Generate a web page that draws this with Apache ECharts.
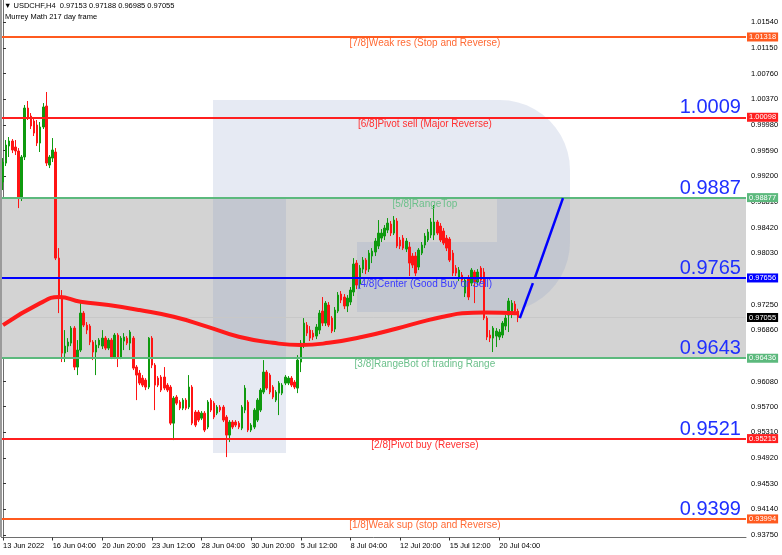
<!DOCTYPE html>
<html><head><meta charset="utf-8">
<script src="https://cdn.jsdelivr.net/npm/echarts@6/dist/echarts.min.js"></script>
<style>html,body{margin:0;padding:0;background:#fff}#c{width:782px;height:555px}</style>
</head><body><div id="c"></div>
<script>
// ---------- DATA ----------
const opens = [0.99114,0.99402,0.99661,0.99737,0.99646,0.99585,0.9887,0.99494,1.00238,1.00117,1.00041,0.9998,0.99706,0.9995,1.00269,0.99372,0.99478,0.9957,0.97958,0.97381,
0.96514,0.96621,0.96666,0.96894,0.96302,0.9656,0.97122,0.9694,0.96925,0.96682,0.9653,0.96636,0.96621,0.96742,0.9659,0.96712,0.96454,0.96788,0.96454,0.96697,
0.96742,0.96666,0.96742,0.96302,0.9621,0.96134,0.96104,0.95998,0.96742,0.96332,0.96134,0.9615,0.9615,0.96028,0.95998,0.9545,0.95846,0.9577,0.95678,0.958,
0.95694,0.95998,0.95618,0.95618,0.95526,0.95602,0.9539,0.958,0.95754,0.95602,0.95694,0.95694,0.95542,0.95268,0.95466,0.95466,0.9545,0.95374,0.95648,0.9577,
0.95344,0.9539,0.95496,0.95648,0.95922,0.96226,0.9618,0.95998,0.958,0.95906,0.95906,0.96058,0.96058,0.96134,0.96074,0.95982,0.96378,0.96636,0.9694,0.96864,
0.96818,0.96773,0.96864,0.97153,0.9697,0.97244,0.97046,0.96879,0.97153,0.97411,0.97366,0.97229,0.9729,0.97442,0.97882,0.97563,0.97791,0.97928,0.97791,0.97989,
0.9805,0.98141,0.98262,0.98293,0.98384,0.98475,0.98338,0.98521,0.98232,0.98262,0.98095,0.98126,0.97989,0.97989,0.97822,0.98034,0.98156,0.98232,0.98308,0.98308,
0.98506,0.98445,0.98369,0.98262,0.98247,0.98034,0.97806,0.97654,0.977,0.97426,0.97654,0.97578,0.97746,0.97594,0.97806,0.97746,0.97046,0.96788,0.96742,0.96773,
0.96758,0.96788,0.96925,0.97092,0.97138,0.97259,0.97153];
const closes = [0.99418,0.99676,0.99737,0.9960,0.99585,0.9887,0.99494,1.00238,1.00102,0.99965,0.99858,0.99706,0.9995,1.00254,0.99402,0.99494,0.9960,0.97958,0.9735,0.96514,
0.96621,0.96682,0.96894,0.96302,0.9656,0.97122,0.9694,0.96864,0.96682,0.9653,0.96636,0.96712,0.96742,0.9659,0.96712,0.96454,0.96788,0.96454,0.96742,0.96758,
0.96666,0.96834,0.96286,0.9618,0.96058,0.96028,0.95998,0.96742,0.96332,0.96028,0.96028,0.95952,0.95982,0.95952,0.9545,0.9583,0.95754,0.95678,0.958,0.95678,
0.95998,0.9545,0.9542,0.95496,0.95602,0.95344,0.9577,0.95648,0.95542,0.95694,0.95648,0.95496,0.95268,0.95466,0.9539,0.9542,0.9539,0.95694,0.95982,0.95344,
0.9542,0.95648,0.958,0.95952,0.96226,0.95982,0.95922,0.95846,0.95922,0.96058,0.96028,0.9615,0.96134,0.96028,0.95998,0.96408,0.96666,0.9697,0.96818,0.96742,
0.96758,0.9691,0.97122,0.9697,0.97274,0.9694,0.96849,0.97168,0.97396,0.9732,0.97229,0.9735,0.97472,0.97867,0.97548,0.97806,0.97928,0.97776,0.98034,0.98065,
0.98217,0.98338,0.98338,0.98414,0.9849,0.98338,0.98536,0.98141,0.98141,0.9811,0.98217,0.97882,0.97852,0.9773,0.9808,0.98156,0.98293,0.98354,0.98506,0.98506,
0.98338,0.98232,0.98186,0.9811,0.97928,0.9773,0.9773,0.97776,0.97624,0.97624,0.97366,0.97776,0.97594,0.97746,0.97624,0.97046,0.96758,0.96742,0.96894,0.96849,
0.96834,0.9697,0.97046,0.97305,0.97274,0.97153,0.97055];
const lows = [0.98992,0.99357,0.99494,0.99554,0.99524,0.98718,0.98825,0.99448,1.00056,0.99919,0.99813,0.99661,0.9957,0.99919,0.99357,0.99326,0.99418,0.97928,0.97122,0.96378,
0.96378,0.9653,0.96621,0.96256,0.9618,0.9653,0.9691,0.96803,0.96636,0.96408,0.9618,0.9659,0.96575,0.9656,0.9656,0.96423,0.96423,0.96302,0.96423,0.9656,
0.96636,0.9656,0.96256,0.958,0.96028,0.95998,0.95952,0.95967,0.96286,0.95648,0.95998,0.95922,0.95952,0.95922,0.9542,0.95192,0.95724,0.95648,0.95648,0.95648,
0.95663,0.9542,0.9539,0.95466,0.95496,0.95314,0.95359,0.95618,0.95511,0.95572,0.95618,0.95466,0.94934,0.95162,0.95359,0.9539,0.95359,0.95344,0.95602,0.95314,
0.95314,0.95359,0.95466,0.95618,0.95891,0.95952,0.95891,0.95815,0.9577,0.95572,0.95876,0.96028,0.96028,0.95998,0.95967,0.95906,0.96226,0.9659,0.96773,0.96697,
0.96712,0.96727,0.96803,0.96925,0.96925,0.9691,0.96818,0.96834,0.97122,0.97274,0.97183,0.97138,0.97244,0.97381,0.97487,0.97502,0.9773,0.97715,0.97746,0.97882,
0.97989,0.98095,0.98202,0.98232,0.98338,0.98293,0.98308,0.9811,0.98095,0.9808,0.9805,0.97685,0.97806,0.97685,0.97776,0.98004,0.9811,0.98202,0.98262,0.98232,
0.98308,0.98202,0.98156,0.98065,0.97898,0.97685,0.97685,0.97609,0.97563,0.97366,0.9732,0.97533,0.97274,0.97548,0.97578,0.97016,0.96712,0.96682,0.9653,0.96606,
0.96712,0.96742,0.96864,0.96834,0.97046,0.97092,0.96985];
const highs = [0.99478,0.99752,0.99798,0.99767,0.99752,0.9963,0.99524,1.00284,1.00345,1.00162,1.00086,1.00056,1.00026,1.00314,1.00482,0.99524,0.99782,0.9963,0.9811,0.97472,
0.96864,0.96742,0.96925,0.96925,0.96712,0.97274,0.97153,0.96986,0.96955,0.96712,0.96712,0.96742,0.96864,0.96773,0.96742,0.96742,0.96818,0.96818,0.96773,0.96818,
0.96773,0.96864,0.96773,0.96332,0.96256,0.9618,0.96134,0.96758,0.96773,0.96362,0.96165,0.9618,0.96302,0.96058,0.96028,0.95861,0.95876,0.958,0.9583,0.9583,
0.9618,0.96028,0.95648,0.95648,0.95633,0.95633,0.958,0.9583,0.95785,0.95724,0.95724,0.95724,0.95572,0.95496,0.95496,0.95496,0.95481,0.95724,0.96028,0.958,
0.9545,0.95678,0.9583,0.95982,0.96408,0.96256,0.9621,0.96028,0.95952,0.96089,0.96058,0.9618,0.96165,0.96165,0.96104,0.96484,0.96712,0.97046,0.96986,0.96925,
0.96864,0.96955,0.97168,0.97366,0.97305,0.9729,0.97077,0.97214,0.97442,0.97457,0.97411,0.97396,0.97518,0.97958,0.97928,0.97852,0.97974,0.97958,0.9808,0.9811,
0.98262,0.98536,0.98399,0.9846,0.98566,0.98521,0.98597,0.98566,0.98278,0.98308,0.98262,0.98202,0.98034,0.9805,0.9811,0.98202,0.98338,0.98399,0.98566,0.98764,
0.98536,0.9849,0.98414,0.98308,0.98278,0.9808,0.97852,0.97822,0.97746,0.9767,0.977,0.97806,0.97776,0.97791,0.97837,0.97806,0.97077,0.96864,0.96925,0.96894,
0.96879,0.97001,0.97092,0.97352,0.9732,0.97305,0.97188];

// moving average (217) read at a few bar positions
const maIdx = [0,12,18,25,34,44,55,66,76,87,96,105,116,127,137,143,148,155,166];
const maVal = [0.9694,0.97274,0.97366,0.97294,0.97244,0.97168,0.97066,0.96914,0.96762,0.9667,0.96636,0.9667,0.96762,0.96888,0.97016,0.97077,0.97118,0.97133,0.97118];

// Murrey Math levels (7/8 .. 1/8)
const levels = [1.01318,1.00098,0.98877,0.97656,0.96436,0.95215,0.93994];
const levelNames = ['[7/8]Weak res (Stop and Reverse)','[6/8]Pivot sell (Major Reverse)','[5/8]RangeTop','[4/8]Center (Good Buy or Sell)','[3/8]RangeBot of trading Range','[2/8]Pivot buy (Reverse)','[1/8]Weak sup (stop and Reverse)'];
const bigLabels = ['','1.0009','0.9887','0.9765','0.9643','0.9521','0.9399'];
const lastPrice = 0.97055;
const header1 = '\u25BC USDCHF,H4  0.97153 0.97188 0.96985 0.97055';
const header2 = 'Murrey Math 217 day frame';

// forecast arrows [barIndex, price]
const arrow1 = [[166.6,0.97046],[170.8,0.97578]];
const arrow2 = [[171.4,0.97654],[180.5,0.98870]];

// axis ticks
const yTicks = [1.0154,1.0115,1.0076,1.0037,0.9998,0.9959,0.992,0.9881,0.9842,0.9803,0.9725,0.9686,0.9608,0.957,0.9531,0.9492,0.9453,0.9414,0.9375];
const xTickIdx = [0,16,32,48,64,80,96,112,128,144,160];
const xTickText = ['13 Jun 2022','16 Jun 04:00','20 Jun 20:00','23 Jun 12:00','28 Jun 04:00','30 Jun 20:00','5 Jul 12:00','8 Jul 04:00','12 Jul 20:00','15 Jul 12:00','20 Jul 04:00'];

// ---------- STYLE / BUILD ----------
const N = 240;
const yMin = 0.93712, yMax = 1.0188;
const FONT = "'Liberation Sans', Arial, sans-serif";
const levelColors = ['#ff5a1f','#ff1f1f','#5cb97d','#0000ff','#5cb97d','#ff1f1f','#ff5a1f'];
const textColors  = ['#ff6a35','#ff3030','#6cc08b','#3a3aff','#6cc08b','#ff3030','#ff6a35'];
const cats = Array.from({length:N},(_,i)=>String(i));
const tickMap = {}; xTickIdx.forEach((t,k)=>tickMap[t]=xTickText[k]);
const candleData = opens.map((o,i)=>[o,closes[i],lows[i],highs[i]]);

function hLine(v,color,width,tagBg){
  return [
    {coord:[-0.5,v],lineStyle:{color:color,width:width,type:'solid'},
     label:{show:true,position:'end',distance:1,formatter:()=>v.toFixed(5),backgroundColor:tagBg,color:'#fff',
            padding:[1,2,0,2],fontSize:7.5,fontFamily:FONT}},
    {coord:[N-0.5,v]}
  ];
}
const levelLines = levels.map((v,k)=>hLine(v,levelColors[k],2,levelColors[k]));
const textPoints = levels.map((v,k)=>({
  coord:[136,v], symbol:'rect', symbolSize:1, itemStyle:{color:'rgba(0,0,0,0)'},
  label:{show:true,position:'bottom',distance:1,formatter:()=>levelNames[k],color:textColors[k],fontSize:10,fontFamily:FONT}
}));
const bigPoints = levels.map((v,k)=>bigLabels[k]?({
  coord:[228,v], symbol:'rect', symbolSize:1, itemStyle:{color:'rgba(0,0,0,0)'},
  label:{show:true,position:'top',distance:-1,formatter:()=>bigLabels[k],color:'#1f2fff',fontSize:20,fontFamily:FONT}
}):null).filter(Boolean);

// watermark logo outline (decoration, pixel space)
function arcPts(cx,cy,r,a0,a1,n){const p=[];for(let s=0;s<=n;s++){const a=a0+(a1-a0)*s/n;p.push([cx+r*Math.cos(a),cy+r*Math.sin(a)]);}return p;}
const wmBowl = [[213,100],[500,100]].concat(arcPts(500,170,70,-Math.PI/2,0,12))
  .concat([[570,242]]).concat(arcPts(500,242,70,0,Math.PI/2,12))
  .concat([[357,312],[357,242],[497,242],[497,197],[213,197]]);

const chart = echarts.init(document.getElementById('c'));
const wm = 'rgba(140,160,200,0.22)';
chart.setOption({
  animation:false,
  backgroundColor:'#ffffff',
  grid:{left:1,right:36,top:0,bottom:17.5},
  xAxis:[{
    type:'category',data:cats,boundaryGap:true,
    axisLine:{show:true,lineStyle:{color:'#6e6e6e',width:1}},
    axisTick:{show:true,alignWithLabel:true,interval:(i)=>tickMap[i]!==undefined,length:3,lineStyle:{color:'#333'}},
    axisLabel:{interval:(i)=>tickMap[i]!==undefined,formatter:(v)=>tickMap[+v]||'',align:'left',margin:4,fontSize:7.5,color:'#000',fontFamily:FONT},
    splitLine:{show:false}
  },{type:'value',min:-0.5,max:N-0.5,show:false}],
  yAxis:{
    type:'value',position:'right',min:yMin,max:yMax,
    axisLine:{show:true,lineStyle:{color:'#6e6e6e',width:1}},
    axisTick:{show:true,customValues:yTicks,length:3,lineStyle:{color:'#333'}},
    axisLabel:{customValues:yTicks,formatter:(v)=>v.toFixed(5),margin:5,fontSize:7.5,color:'#000',fontFamily:FONT},
    splitLine:{show:false}
  },
  graphic:{elements:[
    {type:'rect',z:10,shape:{x:0,y:0,width:2,height:537},style:{fill:'#9a9a9a'}},
    {type:'polygon',z:1.5,silent:true,shape:{points:wmBowl},style:{fill:wm}},
    {type:'rect',z:1.5,silent:true,shape:{x:213,y:197,width:73,height:256},style:{fill:wm}},
    {type:'text',x:4,y:2,z:10,style:{text:header1,fontSize:7.5,fontFamily:FONT,fill:'#000'}},
    {type:'text',x:5,y:13,z:10,style:{text:header2,fontSize:7.5,fontFamily:FONT,fill:'#000'}}
  ]},
  series:[
    {type:'line',xAxisIndex:1,data:[],z:0,silent:true,
     markArea:{silent:true,z:1,itemStyle:{color:'#d3d3d3'},data:[[{coord:[-0.5,levels[2]]},{coord:[N-0.5,levels[4]]}]]},
     markLine:{silent:true,z:1.8,symbol:'none',data:[hLine(lastPrice,'#c8c8c8',1,'#000')]}},
    {type:'candlestick',data:candleData,z:3,barWidth:2,
     itemStyle:{color:'#0f9a0f',color0:'#ff1414',borderColor:'#0f9a0f',borderColor0:'#ff1414',borderWidth:1}},
    {type:'line',xAxisIndex:1,data:maIdx.map((x,i)=>[x,maVal[i]]),smooth:0.5,showSymbol:false,z:4,
     lineStyle:{color:'#ff1a1a',width:4}},
    {type:'line',xAxisIndex:1,data:[],z:5,silent:true,
     markLine:{silent:true,symbol:'none',z:5,data:levelLines}},
    {type:'line',data:[],z:6,silent:true,
     markPoint:{silent:true,z:6,data:textPoints.concat(bigPoints)}},
    {type:'line',xAxisIndex:1,data:[],z:6,silent:true,
     markLine:{silent:true,symbol:['none','arrow'],symbolSize:[0,11],z:6,label:{show:false},
       lineStyle:{color:'#0000ff',width:2.5,type:'solid'},
       data:[[{coord:arrow1[0]},{coord:arrow1[1]}],[{coord:arrow2[0]},{coord:arrow2[1]}]]}}
  ]
});
</script></body></html>
